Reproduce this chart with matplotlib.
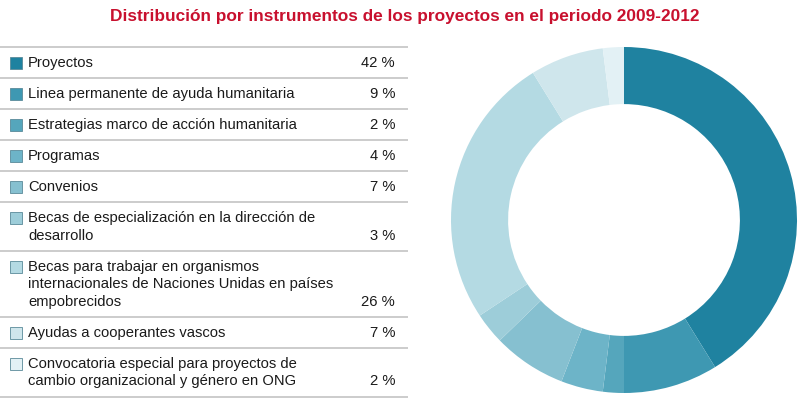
import matplotlib
matplotlib.use("Agg")
from matplotlib import pyplot as plt

plt.rcParams["font.family"] = ["Liberation Sans", "DejaVu Sans"]

title = "Distribución por instrumentos de los proyectos en el periodo 2009-2012"
labels = [
    "Proyectos",
    "Linea permanente de ayuda humanitaria",
    "Estrategias marco de acción humanitaria",
    "Programas",
    "Convenios",
    "Becas de especialización en la dirección de\ndesarrollo",
    "Becas para trabajar en organismos\ninternacionales de Naciones Unidas en países\nempobrecidos",
    "Ayudas a cooperantes vascos",
    "Convocatoria especial para proyectos de\ncambio organizacional y género en ONG",
]
values = [42, 9, 2, 4, 7, 3, 26, 7, 2]

colors = ["#1f82a0", "#3e98b2", "#55a6bc", "#6db4c8", "#86c0d0",
          "#9dcdd9", "#b4dae3", "#cfe6ec", "#e3f1f5"]

W, H = 800, 399
fig = plt.figure(figsize=(W / 100, H / 100), dpi=100)

# left table, in pixel coordinates
ax = fig.add_axes([0, 0, 1, 1])
ax.set_xlim(0, W)
ax.set_ylim(H, 0)
ax.axis("off")

ax.text(405, 16, title, color="#c8102e", fontsize=12.4, fontweight="bold",
        ha="center", va="center")

line_h = 17.5
row_gap = 6.8
y = 47
ax.hlines(y, 0, 408, color="#cccccc", lw=1.4)
for lab, val, c in zip(labels, values, colors):
    parts = lab.split("\n")
    first = y + row_gap + line_h / 2
    for i, p in enumerate(parts):
        ax.text(28, first + i * line_h, p, fontsize=10.6, color="#1a1a1a",
                ha="left", va="center")
    last = first + line_h * (len(parts) - 1)
    ax.add_patch(plt.Rectangle((10, first - 6), 12, 12, facecolor=c,
                               edgecolor="#5a8a99", lw=0.6))
    ax.text(395, last, f"{val} %", fontsize=10.6, color="#1a1a1a",
            ha="right", va="center")
    y = y + row_gap * 2 + line_h * len(parts)
    ax.hlines(y, 0, 408, color="#cccccc", lw=1.4)

# donut
cx, cy, r = 624, 220, 173
pax = fig.add_axes([(cx - r) / W, (H - cy - r) / H, 2 * r / W, 2 * r / H])
pax.pie(values, colors=colors, startangle=90, counterclock=False,
        radius=1, wedgeprops=dict(width=0.33, linewidth=0))
pax.set_xlim(-1, 1)
pax.set_ylim(-1, 1)
pax.set_aspect("equal")

fig.savefig("out.png", dpi=100)
